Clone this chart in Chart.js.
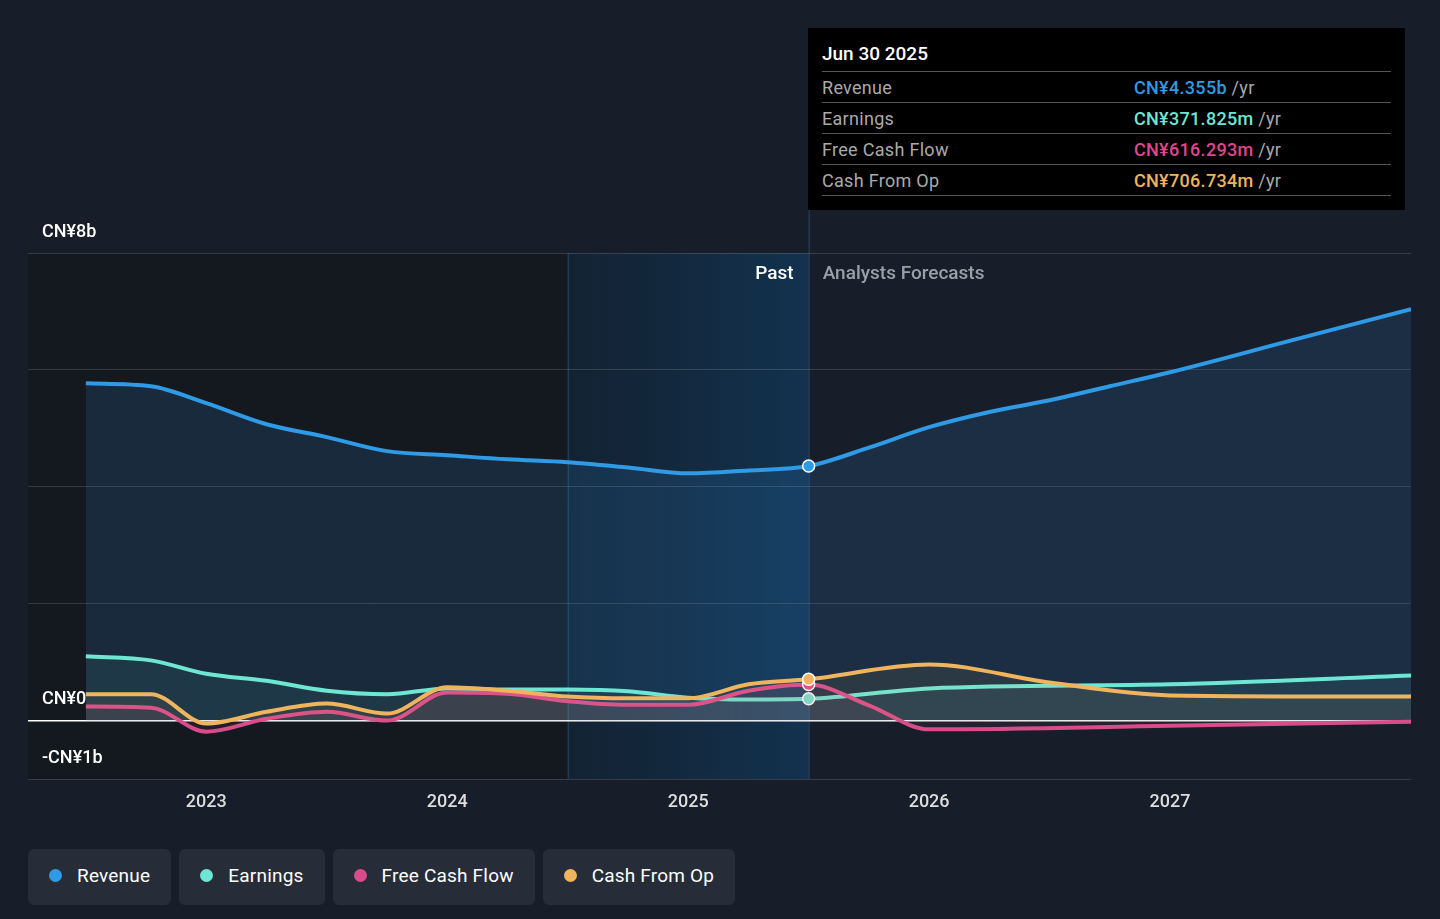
<!DOCTYPE html>
<html><head><meta charset="utf-8">
<script src="https://cdn.jsdelivr.net/npm/chart.js@4.4.0/dist/chart.umd.min.js"></script>
<style>
html,body{margin:0;padding:0;background:#171e29;font-family:Roboto,"Noto Sans",sans-serif;overflow:hidden}
#wrap{position:absolute;left:0;top:0;width:1440px;height:830px}
#tip{position:absolute;left:808px;top:28px;width:597px;height:182px;background:#000;color:#fff;box-sizing:border-box;padding:14px 14px 0 14px}
#tip .h{font-size:19px;font-weight:500;margin-bottom:6px}
#tip .r{display:flex;border-top:1px solid #555;height:30px;align-items:center;font-size:18px;color:#aaa;letter-spacing:0.3px}
#tip .r:last-child{border-bottom:1px solid #555}
#tip .r span:first-child{width:312px}
#legend{position:absolute;top:849px;left:28px;display:flex;gap:8px}
.lg{background:#262d38;border-radius:6px;height:56px;box-sizing:border-box;padding:0 21px 4px;display:flex;align-items:center;color:#fff;font-size:19px;letter-spacing:0.2px}
.lg i{width:13px;height:13px;border-radius:50%;display:inline-block;margin-right:15px}
</style></head><body>
<div id="wrap"><canvas id="c"></canvas></div>
<div id="tip"><div class="h">Jun 30 2025</div>
<div class="r"><span>Revenue</span><span><b style="color:#2f9ae6;font-weight:500">CN¥4.355b</b> /yr</span></div>
<div class="r"><span>Earnings</span><span><b style="color:#6ee6d4;font-weight:500">CN¥371.825m</b> /yr</span></div>
<div class="r"><span>Free Cash Flow</span><span><b style="color:#e0468f;font-weight:500">CN¥616.293m</b> /yr</span></div>
<div class="r"><span>Cash From Op</span><span><b style="color:#f0b45e;font-weight:500">CN¥706.734m</b> /yr</span></div>
</div>
<div id="legend">
<div class="lg"><i style="background:#2f9ae6"></i>Revenue</div>
<div class="lg"><i style="background:#6ee6d4"></i>Earnings</div>
<div class="lg"><i style="background:#d94c8c"></i>Free Cash Flow</div>
<div class="lg"><i style="background:#f0b45e"></i>Cash From Op</div>
</div>
<script>
const revX=[2022.5,2022.77,2023,2023.25,2023.5,2023.75,2024,2024.25,2024.5,2024.75,2025,2025.25,2025.5,2025.75,2026,2026.25,2026.5,2026.75,2027,2027.5,2028];
const revY=[5.77,5.72,5.43,5.07,4.85,4.61,4.54,4.47,4.42,4.33,4.23,4.28,4.355,4.67,5.02,5.28,5.48,5.72,5.96,6.5,7.04];
const pastX=[2022.5,2022.77,2023,2023.25,2023.5,2023.75,2024,2024.25,2024.5,2024.75,2025,2025.25,2025.5];
const earnPast=[1.10,1.03,0.80,0.68,0.51,0.45,0.55,0.53,0.53,0.50,0.39,0.36,0.372];
const fcfPast=[0.24,0.22,-0.19,0.03,0.15,0.0,0.48,0.46,0.33,0.27,0.27,0.51,0.616];
const cfoPast=[0.45,0.45,-0.05,0.15,0.29,0.12,0.57,0.51,0.41,0.38,0.38,0.62,0.707];
const earnFcX=[2026,2027,2028], earnFc=[0.55,0.62,0.77];
const fcfFcX=[2025.75,2026,2027,2028], fcfFc=[0.26,-0.15,-0.09,-0.02];
const cfoFcX=[2026,2026.5,2027,2028], cfoFc=[0.96,0.65,0.43,0.41];
const yearTicks=[2023,2024,2025,2026,2027];
const yTickLabels={8:"CN¥8b",0:"CN¥0","-1":"-CN¥1b"};
const pastEnd=2025.5, hlStart=2024.5;

function pts(xs,ys){return xs.map((x,i)=>({x,y:ys[i]}));}
function mk(label,color,fill,xs,ys){
  const data=pts(xs,ys);
  return {label,data,borderColor:color,backgroundColor:fill,fill:'origin',borderWidth:4,tension:0.35,cubicInterpolationMode:'monotone',
    pointRadius:data.map(p=>p.x===pastEnd?6:0),pointBackgroundColor:color,pointBorderColor:'#fff',pointBorderWidth:1.5};
}
const ds=[
 mk('Revenue','#2f9ae6','rgba(47,130,200,0.17)',revX,revY),
 mk('Earnings','#6ee6d4','rgba(110,230,212,0.08)',pastX.concat(earnFcX),earnPast.concat(earnFc)),
 mk('Free Cash Flow','#d94c8c','rgba(217,76,140,0.08)',pastX.concat(fcfFcX),fcfPast.concat(fcfFc)),
 mk('Cash From Op','#f0b45e','rgba(240,180,94,0.08)',pastX.concat(cfoFcX),cfoPast.concat(cfoFc)),
];
ds.reverse();
const bg={id:'bg',beforeDraw(c){
  const {ctx,chartArea:a,scales:{x,y}}=c;
  const h=x.getPixelForValue(hlStart), p=x.getPixelForValue(pastEnd);
  ctx.save();
  ctx.fillStyle='#141920';ctx.fillRect(a.left,a.top,h-a.left,a.bottom-a.top);
  const g=ctx.createLinearGradient(h,0,p,0);g.addColorStop(0,'rgba(16,40,62,0.5)');g.addColorStop(1,'rgba(18,58,92,0.75)');
  ctx.fillStyle=g;ctx.fillRect(h,a.top,p-h,a.bottom-a.top);
  ctx.strokeStyle='rgba(60,110,150,0.5)';ctx.lineWidth=1;
  ctx.beginPath();ctx.moveTo(h+0.5,a.top);ctx.lineTo(h+0.5,a.bottom);ctx.stroke();
  ctx.beginPath();ctx.moveTo(p+0.5,28);ctx.lineTo(p+0.5,a.bottom);ctx.stroke();
  ctx.restore();
},afterDraw(c){
  const {ctx,chartArea:a,scales:{x,y}}=c;
  ctx.save();ctx.font='500 18px Roboto';ctx.fillStyle='#fff';ctx.textBaseline='middle';
  for(const k in yTickLabels){ctx.textAlign='left';ctx.fillText(yTickLabels[k],42,y.getPixelForValue(+k)-21);}
  ctx.textAlign='center';ctx.font='500 18px Roboto';ctx.fillStyle='#ddd';
  yearTicks.forEach(t=>ctx.fillText(String(t),x.getPixelForValue(t),802));
  const p=x.getPixelForValue(pastEnd);
  ctx.font='500 19px Roboto';ctx.textAlign='right';ctx.fillStyle='#fff';ctx.fillText('Past',p-15,274);
  ctx.textAlign='left';ctx.fillStyle='#9aa0a8';ctx.fillText('Analysts Forecasts',p+14,274);
  ctx.restore();
}};
new Chart(document.getElementById('c'),{type:'line',data:{datasets:ds},plugins:[bg],
 options:{responsive:true,maintainAspectRatio:false,animation:false,
  layout:{padding:{left:28,right:29,top:253,bottom:51}},
  plugins:{legend:{display:false},tooltip:{enabled:false}},
  scales:{
   x:{type:'linear',min:2022.26,max:2028,display:false},
   y:{min:-1,max:8,afterBuildTicks(s){s.ticks=[-1,0,2,4,6,8].map(v=>({value:v}));},
      ticks:{display:false},border:{display:false},
      grid:{color:c=>c.tick.value===0?'#ffffff':'rgba(255,255,255,0.14)',lineWidth:c=>c.tick.value===0?1.5:1,drawTicks:false}}
  }}});
</script></body></html>
